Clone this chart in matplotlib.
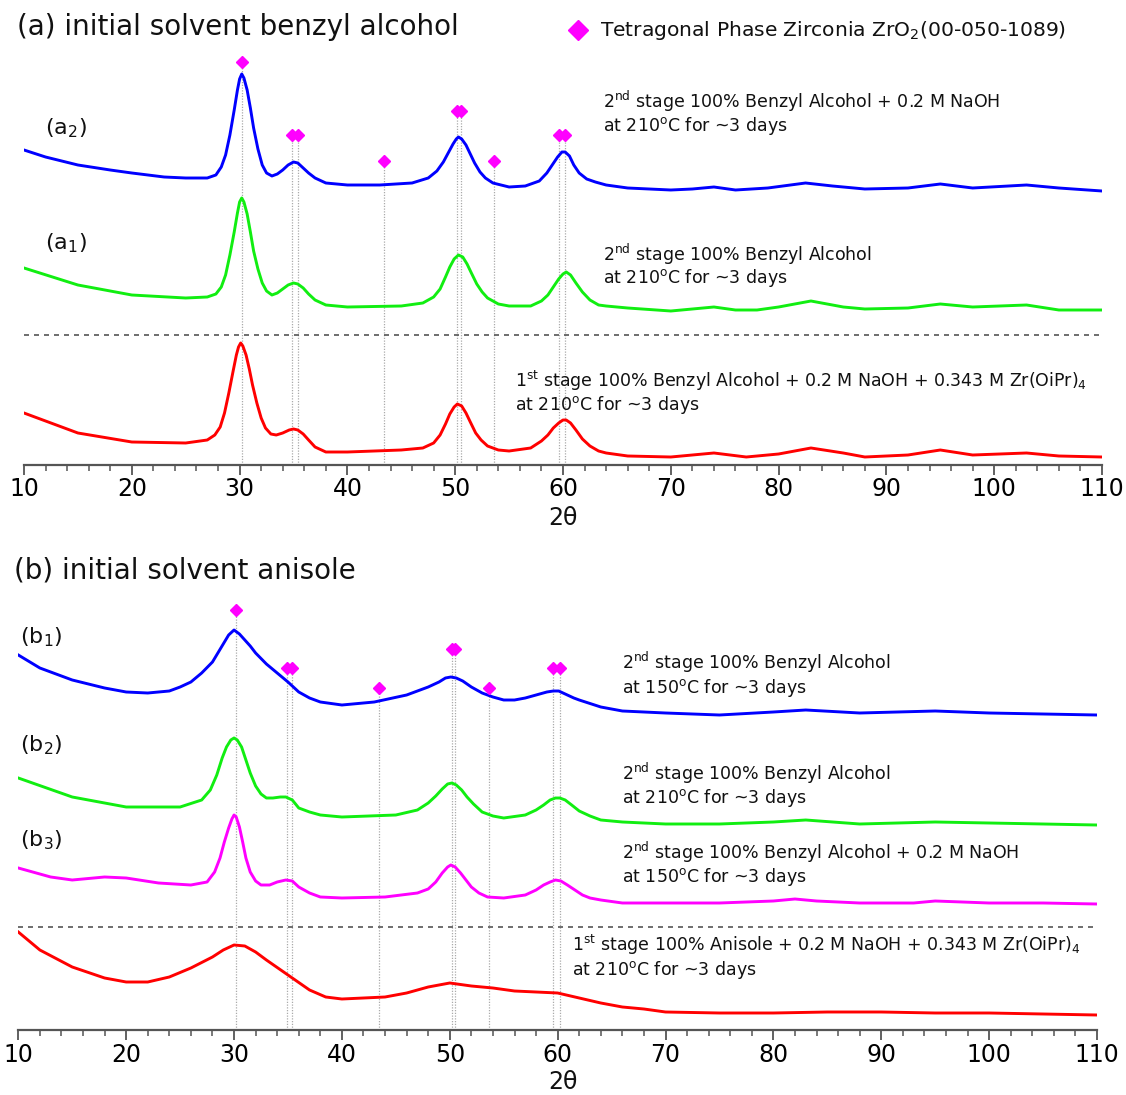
import matplotlib
matplotlib.use("Agg")
import matplotlib.pyplot as plt
import numpy as np

plt.rcParams['font.family'] = ['DejaVu Sans']
plt.rcParams['mathtext.default'] = 'regular'

W, H = 1126, 1095

# ---------------- data: panel (a) ----------------
a2_x = [10, 12, 15, 18, 20, 23, 25, 27, 27.8, 28.3, 28.7, 29.1, 29.5, 29.8, 30.0, 30.2, 30.4, 30.7, 31.0, 31.3,
        31.7, 32.1, 32.5, 33.0, 33.5, 34.0, 34.5, 35.0, 35.4, 35.9, 36.4, 37.0, 38, 40, 43, 46, 47.5, 48.3, 48.9,
        49.4, 49.8, 50.1, 50.3, 50.6, 51.0, 51.4, 51.8, 52.3, 52.8, 53.5, 55, 56.5, 57.8, 58.5, 59.0, 59.5, 59.9,
        60.2, 60.6, 61.0, 61.5, 62.2, 63, 64, 66, 70, 72, 74, 76, 79, 82.5, 85, 88, 92, 95, 98, 103, 106, 110]
a2_y = [315, 308, 300, 295, 292, 288, 287, 287, 290, 298, 310, 330, 355, 375, 386, 391, 387, 375, 357, 337,
        316, 300, 292, 289, 291, 295, 300, 303, 302, 297, 292, 287, 282, 280, 280, 282, 287, 294, 303,
        313, 321, 326, 328, 326, 320, 311, 302, 293, 287, 282, 278, 279, 284, 292, 300, 308, 313,
        313, 309, 300, 292, 286, 283, 280, 277, 275, 276, 278, 275, 277, 282, 279, 276, 277, 281, 277, 280, 277, 274]

a1_x = [10, 15, 20, 25, 27, 27.8, 28.3, 28.7, 29.1, 29.5, 29.8, 30.0, 30.2, 30.4, 30.7, 31.0, 31.3, 31.7, 32.1,
        32.5, 33.0, 33.5, 34.0, 34.5, 35.0, 35.4, 35.9, 36.4, 37, 38, 40, 45, 47, 48, 48.6, 49.1, 49.5, 49.9,
        50.3, 50.7, 51.1, 51.5, 52.0, 52.5, 53, 54, 55, 57, 58, 58.6, 59.1, 59.6, 60.0, 60.3, 60.7, 61.2, 61.8,
        62.5, 63.3, 64, 66, 70, 74, 76, 78, 80, 83, 86, 88, 92, 95, 98, 103, 106, 110]
a1_y = [197, 180, 170, 167, 168, 171, 178, 190, 210, 233, 252, 263, 267, 263, 251, 233, 214, 196, 182,
        174, 170, 172, 176, 180, 182, 181, 177, 171, 165, 160, 158, 159, 162, 168, 176, 188, 198, 206,
        210, 208, 201, 192, 181, 173, 167, 161, 159, 159, 164, 170, 178, 186, 191, 193, 190, 182, 173,
        165, 160, 159, 157, 154, 158, 155, 155, 158, 164, 158, 156, 157, 161, 158, 160, 155, 155]

a0_x = [10, 15, 20, 25, 27, 27.7, 28.2, 28.6, 29.0, 29.4, 29.7, 29.9, 30.1, 30.3, 30.6, 30.9, 31.2, 31.6, 32.0,
        32.4, 32.9, 33.4, 34.0, 34.6, 35.0, 35.4, 35.9, 36.4, 37, 38, 40, 45, 47, 48, 48.6, 49.1, 49.5, 49.9,
        50.2, 50.6, 51.0, 51.4, 51.9, 52.4, 53, 54, 55, 57, 58, 58.6, 59.1, 59.6, 60.0, 60.3, 60.7, 61.2, 61.8,
        62.5, 63.3, 64, 66, 70, 74, 77, 80, 83, 86, 88, 92, 95, 98, 103, 106, 110]
a0_y = [52, 32, 23, 22, 25, 30, 38, 52, 72, 94, 110, 118, 122, 119, 110, 96, 80, 62, 47,
        37, 31, 30, 32, 35, 36, 35, 31, 25, 18, 13, 13, 15, 17, 22, 30, 41, 51, 58,
        61, 59, 52, 43, 32, 25, 19, 15, 14, 17, 24, 30, 37, 42, 45, 45, 42, 35, 26,
        19, 14, 12, 9, 8, 12, 8, 11, 17, 12, 8, 10, 15, 10, 12, 9, 8]

a_divider = 130

# reference pattern (tetragonal ZrO2, 00-050-1089): positions and marker heights
ref_pos = [30.2, 34.9, 35.4, 43.4, 50.2, 50.5, 53.6, 59.6, 60.2]
ref_h_a = [403, 330, 330, 304, 354, 354, 304, 330, 330]
ref_h_b = [420, 362, 362, 342, 381, 381, 342, 362, 362]

# ---------------- data: panel (b) ----------------
b1_x = [10, 12, 15, 18, 20, 22, 24, 25, 26, 27, 28, 28.5, 29, 29.5, 30, 30.5, 31, 31.5, 32, 33, 34, 35, 36, 37,
        38, 40, 43, 46, 48, 49, 49.6, 50.1, 50.6, 51.2, 52, 53, 54, 55, 56, 57, 58, 59, 59.6, 60.1, 60.7, 61.5,
        62, 64, 66, 70, 75, 80, 83, 88, 95, 100, 105, 110]
b1_y = [375, 362, 350, 342, 338, 337, 339, 343, 348, 357, 368, 377, 386, 395, 400, 396, 390, 384, 377, 366,
        357, 348, 338, 332, 328, 325, 328, 335, 343, 348, 352, 353, 352, 349, 343, 337, 333, 330, 330, 332,
        335, 338, 339, 339, 336, 332, 330, 323, 319, 317, 315, 318, 320, 317, 319, 317, 316, 315]

b2_x = [10, 15, 20, 25, 27, 27.8, 28.4, 28.9, 29.3, 29.7, 30.0, 30.3, 30.7, 31.1, 31.5, 32.0, 32.5, 33.0, 33.6,
        34.3, 34.8, 35.4, 36, 37, 38, 40, 45, 47, 48, 48.7, 49.3, 49.8, 50.2, 50.6, 51.1, 51.6, 52.2, 53, 54,
        55, 57, 58, 58.7, 59.3, 59.8, 60.2, 60.7, 61.3, 62, 63, 64, 66, 70, 75, 80, 83, 88, 95, 100, 110]
b2_y = [252, 233, 223, 223, 230, 240, 255, 272, 283, 290, 292, 290, 283, 270, 257, 244, 236, 232, 232,
        233, 233, 230, 222, 218, 215, 213, 215, 220, 227, 234, 241, 246, 247, 245, 240, 233, 226, 218, 214,
        212, 215, 220, 225, 230, 232, 232, 230, 225, 219, 214, 210, 208, 206, 206, 208, 210, 206, 208, 207, 205]

b3_x = [10, 13, 15, 18, 20, 23, 26, 27.5, 28.2, 28.7, 29.1, 29.5, 29.8, 30.0, 30.2, 30.5, 30.8, 31.1, 31.5, 32.0,
        32.5, 33.3, 34.0, 34.8, 35.4, 36, 37, 38, 40, 44, 47, 48, 48.7, 49.3, 49.8, 50.1, 50.5, 51.0, 51.5, 52,
        52.7, 53.5, 55, 57, 58, 58.7, 59.3, 59.8, 60.3, 60.9, 61.6, 62.3, 63, 64, 66, 70, 75, 80, 82, 84, 88,
        93, 95, 100, 105, 110]
b3_y = [162, 153, 150, 153, 152, 147, 145, 148, 158, 172, 188, 202, 211, 215, 213, 203, 188, 172, 158, 149,
        145, 145, 148, 150, 149, 143, 137, 133, 132, 133, 137, 141, 148, 157, 163, 165, 163, 157, 150, 143,
        137, 133, 132, 135, 140, 145, 148, 150, 149, 145, 140, 135, 132, 130, 127, 127, 127, 129, 131, 129, 127,
        127, 129, 127, 127, 126]

b0_x = [10, 12, 15, 18, 20, 22, 24, 26, 28, 29, 30, 31, 32, 33, 35, 37, 38.5, 40, 42, 44, 46, 48, 50, 52, 54,
        56, 58, 60, 62, 64, 66, 68, 70, 75, 80, 85, 90, 95, 100, 105, 110]
b0_y = [98, 80, 63, 52, 48, 48, 53, 62, 73, 80, 85, 84, 78, 70, 55, 40, 33, 31, 32, 33, 37, 43, 47, 44, 42,
        39, 38, 37, 32, 27, 23, 21, 18, 17, 17, 18, 18, 17, 17, 16, 15]

b_divider = 103

x_ticks = [10, 20, 30, 40, 50, 60, 70, 80, 90, 100, 110]

BLUE, GREEN, RED, MAG = '#0000ff', '#11ee11', '#ff0000', '#ff00ff'

fig = plt.figure(figsize=(W / 100, H / 100), dpi=100)


def make_axes(left_px, right_px, axis_y_px, top_px):
    ax = fig.add_axes([left_px / W, 1 - axis_y_px / H, (right_px - left_px) / W, (axis_y_px - top_px) / H])
    ax.set_xlim(10, 110)
    ax.set_ylim(0, axis_y_px - top_px)
    for s in ['top', 'left', 'right']:
        ax.spines[s].set_visible(False)
    ax.spines['bottom'].set_color('#555555')
    ax.spines['bottom'].set_linewidth(1.6)
    ax.set_yticks([])
    ax.set_xticks(x_ticks)
    ax.set_xticks(np.arange(12, 110, 2), minor=True)
    ax.tick_params(axis='x', which='major', length=7, width=1.3, color='#555555', labelsize=17, pad=2)
    ax.tick_params(axis='x', which='minor', length=4.5, width=1.1, color='#555555')
    ax.patch.set_alpha(0)
    return ax


def draw_refs(ax, heights):
    for p, h in zip(ref_pos, heights):
        ax.plot([p, p], [0, h], color='#aaaaaa', lw=0.9, ls=(0, (1, 1.2)), zorder=1)
    ax.plot(ref_pos, heights, ls='none', marker='D', ms=6, color=MAG, mec=MAG, zorder=5)


def ftext(x, y, s, size, **kw):
    fig.text(x / W, 1 - y / H, s, fontsize=size, va='center', ha=kw.pop('ha', 'left'), color='#111111', **kw)


LW = 2.1
# ---------- panel a ----------
axa = make_axes(24, 1102, 465, 35)
draw_refs(axa, ref_h_a)
axa.plot(a2_x, a2_y, color=BLUE, lw=LW, zorder=3)
axa.plot(a1_x, a1_y, color=GREEN, lw=LW, zorder=3)
axa.plot(a0_x, a0_y, color=RED, lw=LW, zorder=3)
axa.plot([10, 110], [a_divider, a_divider], color='#555555', lw=1.2, ls=(0, (3, 3)), zorder=2)

# ---------- panel b ----------
axb = make_axes(18.3, 1097, 1030, 590)
draw_refs(axb, ref_h_b)
axb.plot(b1_x, b1_y, color=BLUE, lw=LW, zorder=3)
axb.plot(b2_x, b2_y, color=GREEN, lw=LW, zorder=3)
axb.plot(b3_x, b3_y, color=MAG, lw=LW, zorder=3)
axb.plot(b0_x, b0_y, color=RED, lw=LW, zorder=3)
axb.plot([10, 110], [b_divider, b_divider], color='#555555', lw=1.2, ls=(0, (3, 3)), zorder=2)

# ---------- texts ----------
ftext(17, 27, '(a) initial solvent benzyl alcohol', 20)
ftext(14, 570, '(b) initial solvent anisole', 20)
ftext(563, 518, '2θ', 17, ha='center')
ftext(563, 1082, '2θ', 17, ha='center')

fig.lines.append(plt.Line2D([578 / W], [1 - 30 / H], marker='D', ms=10, color=MAG, mec=MAG,
                            transform=fig.transFigure, ls='none'))
ftext(600, 30, r'Tetragonal Phase Zirconia ZrO$_2$(00-050-1089)', 14.6)

ftext(45, 128, r'(a$_2$)', 16)
ftext(45, 243, r'(a$_1$)', 16)
ftext(20, 637, r'(b$_1$)', 16)
ftext(20, 745, r'(b$_2$)', 16)
ftext(20, 840, r'(b$_3$)', 16)

ns = 12.5
ftext(603, 101, r'2$^{nd}$ stage 100% Benzyl Alcohol + 0.2 M NaOH', ns)
ftext(603, 126, r'at 210$^{o}$C for ~3 days', ns)
ftext(603, 254, r'2$^{nd}$ stage 100% Benzyl Alcohol', ns)
ftext(603, 278, r'at 210$^{o}$C for ~3 days', ns)
ftext(515, 381, r'1$^{st}$ stage 100% Benzyl Alcohol + 0.2 M NaOH + 0.343 M Zr(OiPr)$_4$', ns)
ftext(515, 405, r'at 210$^{o}$C for ~3 days', ns)

ftext(622, 662, r'2$^{nd}$ stage 100% Benzyl Alcohol', ns)
ftext(622, 688, r'at 150$^{o}$C for ~3 days', ns)
ftext(622, 773, r'2$^{nd}$ stage 100% Benzyl Alcohol', ns)
ftext(622, 798, r'at 210$^{o}$C for ~3 days', ns)
ftext(622, 852, r'2$^{nd}$ stage 100% Benzyl Alcohol + 0.2 M NaOH', ns)
ftext(622, 877, r'at 150$^{o}$C for ~3 days', ns)
ftext(572, 945, r'1$^{st}$ stage 100% Anisole + 0.2 M NaOH + 0.343 M Zr(OiPr)$_4$', ns)
ftext(572, 970, r'at 210$^{o}$C for ~3 days', ns)

fig.savefig('out.png', dpi=100, facecolor='white')
